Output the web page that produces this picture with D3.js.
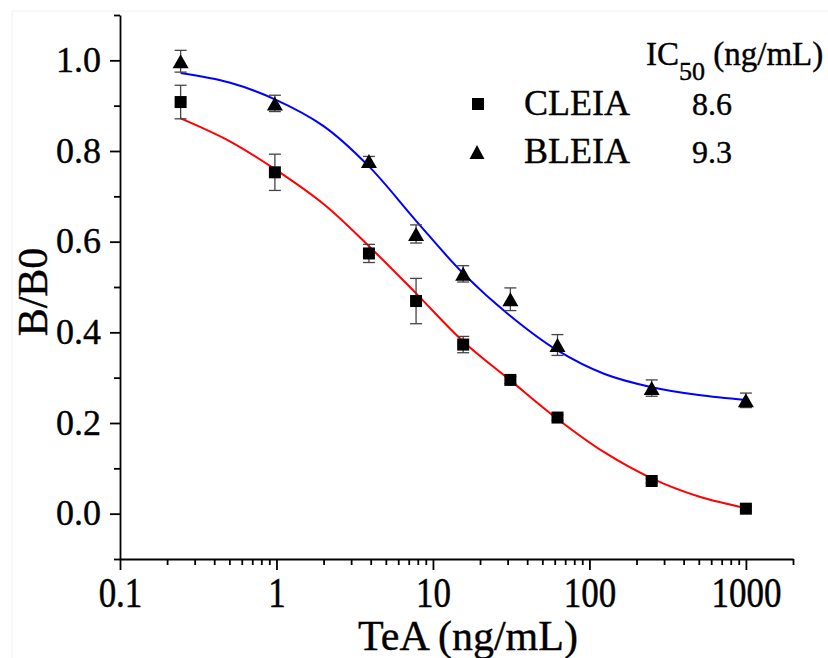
<!DOCTYPE html>
<html>
<head>
<meta charset="utf-8">
<script src="https://cdn.jsdelivr.net/npm/d3@7"></script>
<style>
  body { margin: 0; background: #fff; }
  svg text { font-family: "Liberation Serif", "Times New Roman", serif; stroke: #000; stroke-width: 0.4px; }
</style>
</head>
<body>
<div id="chart"></div>
<script>
// concentrations of TeA (ng/mL)
var conc = [0.244, 0.977, 3.9, 7.8, 15.6, 31.25, 62.5, 250, 1000];

// CLEIA (squares)
var cleiaMean = [0.908, 0.753, 0.574, 0.469, 0.373, 0.295, 0.212, 0.072, 0.011];
var cleiaErr  = [0.037, 0.040, 0.020, 0.050, 0.018, 0.008, 0.006, 0.005, 0.005];

// BLEIA (triangles)
var bleiaMean = [0.998, 0.905, 0.778, 0.617, 0.529, 0.473, 0.372, 0.277, 0.250];
var bleiaErr  = [0.024, 0.018, 0.010, 0.020, 0.018, 0.025, 0.023, 0.018, 0.016];

// fitted curves
var fitX     = [0.244, 0.5, 0.977, 2, 3.9, 7.8, 15.6, 31.25, 62.5, 125, 250, 500, 1000];
var cleiaFit = [0.872, 0.822, 0.760, 0.683, 0.590, 0.486, 0.380, 0.294, 0.209, 0.135, 0.078, 0.038, 0.0125];
var bleiaFit = [0.972, 0.951, 0.914, 0.855, 0.766, 0.646, 0.530, 0.436, 0.360, 0.308, 0.279, 0.262, 0.251];

var xTicks = [0.1, 1, 10, 100, 1000];
var xTickLabels = ["0.1", "1", "10", "100", "1000"];
var yTicks = [0.0, 0.2, 0.4, 0.6, 0.8, 1.0];

var legendNames = ["CLEIA", "BLEIA"];
var legendIC50 = ["8.6", "9.3"];

var svgWidth = 828;
var svgHeight = 658;
var serif = "'Liberation Serif', 'Times New Roman', serif";

var svg = d3.select("#chart").append("svg")
  .attr("width", svgWidth)
  .attr("height", svgHeight)
  .style("display", "block");

// faint frame from the original figure
svg.append("path")
  .attr("d", "M12,658 V11 H828")
  .attr("fill", "none")
  .attr("stroke", "#f0f0f0")
  .attr("stroke-width", 1);

var x = d3.scaleLog().domain([0.1, 2000]).range([120, 793]);
var y = d3.scaleLinear().domain([-0.1, 1.1]).range([559, 15]);

// minor tick positions
var xMinor = [];
[0.1, 1, 10, 100, 1000].forEach(function(d) {
  for (var k = 2; k <= 9; k++) {
    if (d * k <= 2000) xMinor.push(d * k);
  }
});
var yMinor = [-0.1, 0.1, 0.3, 0.5, 0.7, 0.9, 1.1];

// ---- axes
var xAxisG = svg.append("g")
  .attr("transform", "translate(0,559)")
  .call(d3.axisBottom(x).tickValues(xTicks).tickSize(11).tickSizeOuter(0)
    .tickFormat(function(d, i) { return xTickLabels[i]; }));

svg.append("g")
  .attr("transform", "translate(0,559)")
  .call(d3.axisBottom(x).tickValues(xMinor).tickSize(6).tickSizeOuter(0).tickFormat(""))
  .select(".domain").remove();

var yAxisG = svg.append("g")
  .attr("transform", "translate(120,0)")
  .call(d3.axisLeft(y).tickValues(yTicks).tickSize(10).tickSizeOuter(0)
    .tickFormat(d3.format(".1f")));

svg.append("g")
  .attr("transform", "translate(120,0)")
  .call(d3.axisLeft(y).tickValues(yMinor).tickSize(6).tickSizeOuter(0).tickFormat(""))
  .select(".domain").remove();

svg.selectAll("g").attr("font-family", null).attr("font-size", null);

svg.selectAll(".domain, .tick line")
  .attr("stroke", "#000")
  .attr("stroke-width", 1.8);

// x tick labels look a bit taller than wide in the original
xAxisG.selectAll("text")
  .attr("y", 0)
  .attr("dy", 0)
  .attr("transform", "translate(0,48) scale(1,1.2)")
  .attr("fill", "#000")
  .style("font-family", serif)
  .style("font-size", "35px");

yAxisG.selectAll("text")
  .attr("x", -19)
  .attr("dy", 11)
  .attr("fill", "#000")
  .style("font-family", serif)
  .style("font-size", "36px");

// axis titles
svg.append("text")
  .attr("x", 468)
  .attr("y", 650)
  .attr("text-anchor", "middle")
  .style("font-family", serif)
  .style("font-size", "42px")
  .text("TeA (ng/mL)");

svg.append("text")
  .attr("transform", "translate(47,292) rotate(-90)")
  .attr("text-anchor", "middle")
  .style("font-family", serif)
  .style("font-size", "42px")
  .text("B/B0");

// ---- fitted curves
var fitLine = d3.line()
  .x(function(d) { return x(d[0]); })
  .y(function(d) { return y(d[1]); })
  .curve(d3.curveCatmullRom.alpha(0.5));

svg.append("path")
  .datum(d3.zip(fitX, cleiaFit))
  .attr("d", fitLine)
  .attr("fill", "none")
  .attr("stroke", "#ff0000")
  .attr("stroke-width", 2);

svg.append("path")
  .datum(d3.zip(fitX, bleiaFit))
  .attr("d", fitLine)
  .attr("fill", "none")
  .attr("stroke", "#0000ff")
  .attr("stroke-width", 2);

// ---- error bars
function drawErrors(means, errs) {
  var g = svg.append("g")
    .attr("stroke", "#444")
    .attr("stroke-width", 1.3)
    .attr("fill", "none");
  conc.forEach(function(c, i) {
    var cx = x(c);
    var top = y(means[i] + errs[i]);
    var bot = y(means[i] - errs[i]);
    g.append("line").attr("x1", cx).attr("x2", cx).attr("y1", top).attr("y2", bot);
    g.append("line").attr("x1", cx - 6).attr("x2", cx + 6).attr("y1", top).attr("y2", top);
    g.append("line").attr("x1", cx - 6).attr("x2", cx + 6).attr("y1", bot).attr("y2", bot);
  });
}
drawErrors(cleiaMean, cleiaErr);
drawErrors(bleiaMean, bleiaErr);

// ---- markers
function squarePath(cx, cy, s) {
  var h = s / 2;
  return "M" + (cx - h) + "," + (cy - h) + "h" + s + "v" + s + "h" + (-s) + "Z";
}
function trianglePath(cx, cy, w, h) {
  return "M" + cx + "," + (cy - h / 2) +
    "L" + (cx + w / 2) + "," + (cy + h / 2) +
    "L" + (cx - w / 2) + "," + (cy + h / 2) + "Z";
}

svg.append("g").selectAll("path")
  .data(d3.zip(conc, cleiaMean))
  .enter()
  .append("path")
  .attr("d", function(d) { return squarePath(x(d[0]), y(d[1]), 12); })
  .attr("fill", "#000");

svg.append("g").selectAll("path")
  .data(d3.zip(conc, bleiaMean))
  .enter()
  .append("path")
  .attr("d", function(d) { return trianglePath(x(d[0]), y(d[1]), 16, 14); })
  .attr("fill", "#000");

// ---- legend
var legend = svg.append("g");

var header = legend.append("text")
  .attr("x", 646)
  .attr("y", 65)
  .style("font-family", serif)
  .style("font-size", "33px");
header.append("tspan").text("IC");
header.append("tspan").style("font-size", "26px").attr("dy", 15).text("50");
header.append("tspan").attr("dy", -15).text(" (ng/mL)");

legend.append("path")
  .attr("d", squarePath(478, 104, 12))
  .attr("fill", "#000");
legend.append("path")
  .attr("d", trianglePath(477, 152, 15, 14))
  .attr("fill", "#000");

legend.selectAll(".lname")
  .data(legendNames)
  .enter()
  .append("text")
  .attr("class", "lname")
  .attr("x", 524)
  .attr("y", function(d, i) { return 115 + i * 48; })
  .style("font-family", serif)
  .style("font-size", "36px")
  .text(function(d) { return d; });

legend.selectAll(".lval")
  .data(legendIC50)
  .enter()
  .append("text")
  .attr("class", "lval")
  .attr("x", 692)
  .attr("y", function(d, i) { return 115 + i * 48; })
  .style("font-family", serif)
  .style("font-size", "32px")
  .text(function(d) { return d; });
</script>
</body>
</html>
